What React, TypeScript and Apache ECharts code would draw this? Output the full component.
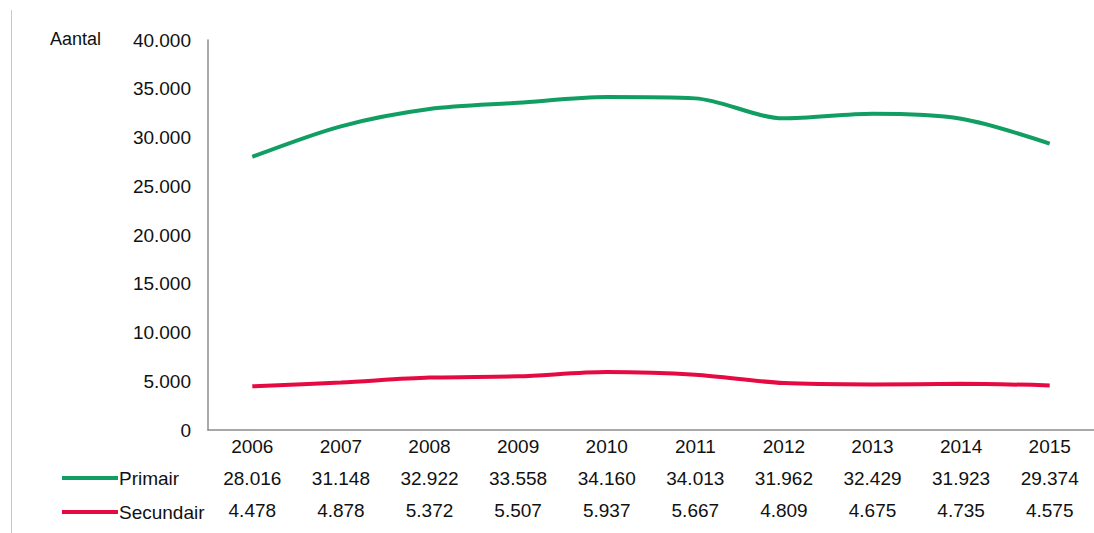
import React, { useEffect, useRef } from "react";
import * as echarts from "echarts";

const years = ["2006", "2007", "2008", "2009", "2010", "2011", "2012", "2013", "2014", "2015"];
const primair = [28016, 31148, 32922, 33558, 34160, 34013, 31962, 32429, 31923, 29374];
const secundair = [4478, 4878, 5372, 5507, 5937, 5667, 4809, 4675, 4735, 4575];
const yTicks = { min: 0, max: 40000, interval: 5000 };
const seriesNames = ["Primair", "Secundair"];
const colors = ["#119e62", "#e60a43"];

const FONT = "'Liberation Sans', Arial, sans-serif";
const TEXT = "#111111";
const fmt = (v: number) => {
  if (v === 0) return "0";
  const s = String(Math.round(v));
  return s.replace(/\B(?=(\d{3})+(?!\d))/g, ".");
};

export default function App() {
  const ref = useRef<HTMLDivElement>(null);
  useEffect(() => {
    if (!ref.current) return;
    const chart = echarts.init(ref.current, undefined, { renderer: "svg" });
    chart.setOption({
      animation: false,
      backgroundColor: "#ffffff",
      textStyle: { fontFamily: FONT },
      grid: { left: 208, right: -16, top: 40, bottom: 103, containLabel: false },
      legend: {
        orient: "vertical",
        left: 57,
        top: 462,
        padding: 5,
        icon: "rect",
        itemWidth: 56,
        itemHeight: 4,
        itemGap: 12,
        selectedMode: false,
        data: seriesNames,
        textStyle: { fontSize: 19, color: TEXT, fontFamily: FONT, lineHeight: 22, padding: [0, 0, 0, -4] },
      },
      xAxis: {
        type: "category",
        data: years,
        boundaryGap: true,
        axisLine: { show: true, lineStyle: { color: "#8c8c8c", width: 1.5 } },
        axisTick: { show: false },
        axisLabel: {
          margin: 0,
          interval: 0,
          formatter: (val: string, idx: number) =>
            `{a|${val}}\n{a|${fmt(primair[idx])}}\n{a|${fmt(secundair[idx])}}`,
          rich: {
            a: { fontSize: 19, lineHeight: 32, color: TEXT, fontFamily: FONT, align: "center" },
          },
        },
      },
      yAxis: {
        type: "value",
        min: yTicks.min,
        max: yTicks.max,
        interval: yTicks.interval,
        splitLine: { show: false },
        axisLine: { show: true, lineStyle: { color: "#8c8c8c", width: 1.5 } },
        axisTick: { show: false },
        axisLabel: {
          margin: 17,
          fontSize: 19,
          color: TEXT,
          fontFamily: FONT,
          formatter: (v: number) => fmt(v),
        },
      },
      graphic: [
        {
          type: "line",
          shape: { x1: 11.5, y1: 10, x2: 11.5, y2: 533 },
          style: { stroke: "#c8c8c8", lineWidth: 1 },
          silent: true,
        },
        {
          type: "text",
          left: 50,
          top: 30,
          style: { text: "Aantal", fontSize: 18, fontWeight: "normal", fill: TEXT, fontFamily: FONT },
          silent: true,
        },
      ],
      series: [
        {
          name: seriesNames[0],
          type: "line",
          data: primair,
          smooth: 0.3,
          symbol: "none",
          lineStyle: { color: colors[0], width: 4 },
          itemStyle: { color: colors[0] },
        },
        {
          name: seriesNames[1],
          type: "line",
          data: secundair,
          smooth: 0.3,
          symbol: "none",
          lineStyle: { color: colors[1], width: 4 },
          itemStyle: { color: colors[1] },
        },
      ],
    });
    return () => chart.dispose();
  }, []);
  return <div ref={ref} style={{ position: "fixed", left: 0, top: 0, width: 1094, height: 533 }} />;
}
